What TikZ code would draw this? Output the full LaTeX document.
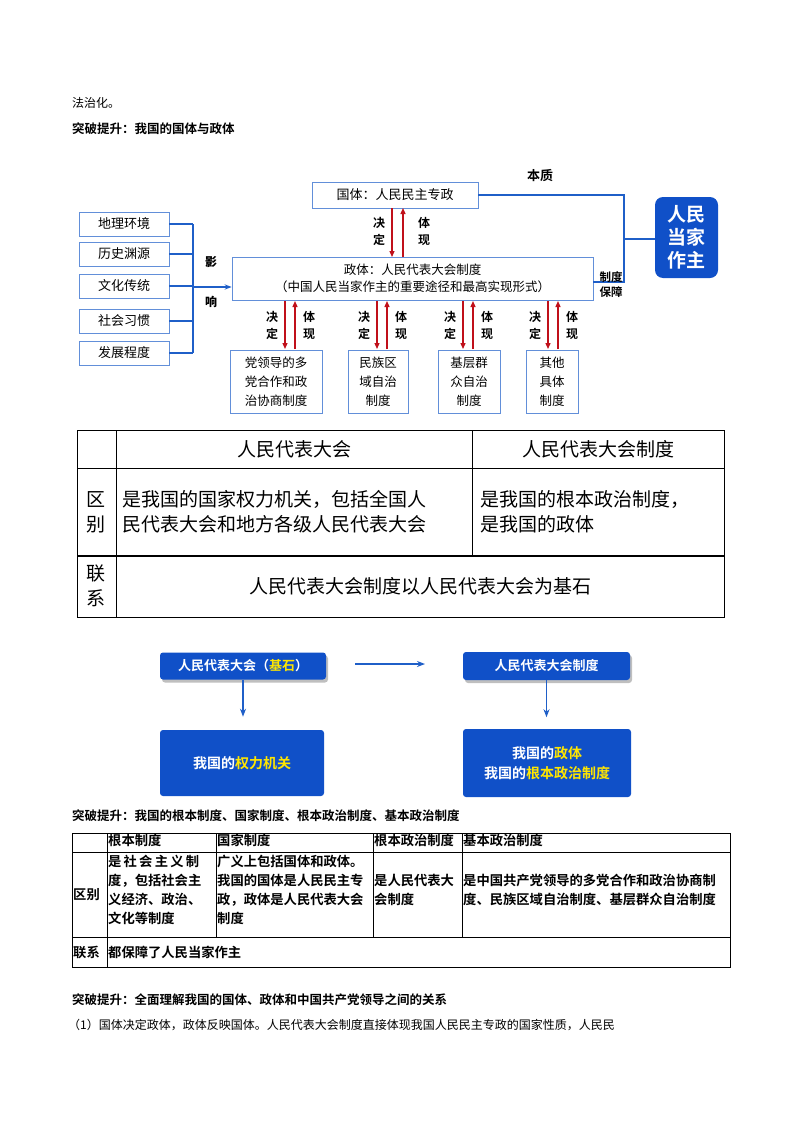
\documentclass[tikz,border=0pt]{standalone}
\usepackage{fontspec}
\setmainfont{Noto Sans CJK SC}
\newfontfamily\cjkb{Noto Sans CJK SC Bold}
\usetikzlibrary{arrows.meta,positioning,shadows}
\definecolor{bl}{HTML}{1F5FC8}
\definecolor{rd}{HTML}{C0101A}
\definecolor{dk}{HTML}{1050C8}
\definecolor{yl}{HTML}{FFE600}
\begin{document}
\begin{tikzpicture}[x=1pt,y=-1pt,
 bx/.style={draw=bl!70,line width=0.8pt,inner sep=0pt,font=\fontsize{13}{16}\selectfont,align=center},
 bline/.style={draw=bl,line width=2pt},
 rarr/.style={draw=rd,line width=1.3pt,-{Triangle[width=5pt,length=6pt]}},
 lab/.style={font=\fontsize{12}{14}\selectfont\bfseries,inner sep=0pt},
 blkbase/.style={rounded corners=3pt,fill=dk,draw=none,text=white,font=\fontsize{13}{17}\selectfont\cjkb,align=center},
 blk/.style={blkbase,drop shadow={shadow xshift=2pt,shadow yshift=-3pt,opacity=0.5}},
 tx/.style={anchor=north west,inner sep=0pt,font=\fontsize{13.3}{19}\selectfont\cjkb,align=left},
 tb/.style={draw=black,line width=0.8pt}]
\useasboundingbox[fill=white] (0,0) rectangle (800,1132);
\node[anchor=west,inner sep=0pt,font=\fontsize{12}{14}\selectfont] (t0) at (72,103) {法治化。};
\node[anchor=west,inner sep=0pt,font=\fontsize{12.5}{14}\selectfont\cjkb] (t1) at (72,129) {突破提升：我国的国体与政体};
% top diagram
\node[bx,minimum width=166pt,minimum height=26pt] (gt) at (395,195) {国体：人民民主专政};
\node[bx,minimum width=361pt,minimum height=43pt,font=\fontsize{12.5}{17}\selectfont] (zt) at (412.5,278.5) {政体：人民代表大会制度\\（中国人民当家作主的重要途径和最高实现形式）};
\foreach \n/\t/\y in {a/地理环境/224,b/历史渊源/254,c/文化传统/286,d/社会习惯/321,e/发展程度/353}
 \node[bx,minimum width=90pt,minimum height=24pt] (\n) at (124,\y) {\t};
\coordinate (br1) at (193,224); \coordinate (br2) at (193,353);
\draw[bline] (br1) -- (br2);
\foreach \n in {a,b,c,d,e} \draw[bline] (\n.east) -- (\n.east -| br1);
\coordinate (ar0) at (193,287);
\draw[bline,-{Stealth[length=7pt]}] (ar0) -- (ar0 -| zt.west);
\node[lab] (y1) at (211,262) {影};
\node[lab] (y2) at (211,302) {响};
\node[blkbase,rounded corners=8pt,minimum width=63pt,minimum height=81pt,font=\fontsize{19}{23}\selectfont\cjkb] (rm) at (686.5,237.5) {人民\\当家\\作主};
\coordinate (c1) at (624,195); \coordinate (c2) at (624,282);
\draw[bline] (gt.east) -- (c1) -- (c2) -- (c2 -| zt.east);
\draw[bline] (624,239) -- (rm.west |- 0,239);
\node[lab,font=\fontsize{13}{15}\selectfont\cjkb] (bz) at (540,176) {本质};
\node[lab,align=center,font=\fontsize{11.5}{15}\selectfont\cjkb] (zd) at (611,285) {制度\\保障};
% vertical arrows
\draw[rarr] (392,208) -- (392,257);
\draw[rarr] (403,257) -- (403,208);
\node[lab,align=center,font=\fontsize{12}{17}\selectfont\cjkb] (j0) at (379,231) {决\\定};
\node[lab,align=center,font=\fontsize{12}{17}\selectfont\cjkb] (h0) at (424,231) {体\\现};
\foreach \n/\x/\w/\t in {p/276/92/党领导的多\\党合作和政\\治协商制度, q/378/60/民族区\\域自治\\制度, r/469/62/基层群\\众自治\\制度, s/552/52/其他\\具体\\制度}{
 \node[bx,minimum width=\w pt,minimum height=63pt,font=\fontsize{12.5}{19}\selectfont] (\n) at (\x,381.5) {\t};
}
\foreach \x in {290,382,468,553}{
 \draw[rarr] (\x-5,301) -- (\x-5,349);
 \draw[rarr] (\x+5,349) -- (\x+5,301);
 \node[lab,align=center,font=\fontsize{12}{17}\selectfont\cjkb] at (\x-18,325) {决\\定};
 \node[lab,align=center,font=\fontsize{12}{17}\selectfont\cjkb] at (\x+19,325) {体\\现};
}
% table 1
\draw[tb,line width=1pt] (77,430) rectangle (724,617);
\draw[tb] (77,468) -- (724,468); \draw[tb,line width=1.2pt] (77,556) -- (724,556);
\draw[tb] (116,430) -- (116,617); \draw[tb] (472,430) -- (472,556);
\begin{scope}[every node/.style={font=\fontsize{19}{25}\selectfont,inner sep=0pt}]
\node (h1) at (294,449) {人民代表大会};
\node (h2) at (598,449) {人民代表大会制度};
\node[align=center] (q1) at (96,512) {区\\别};
\node[align=center] (q2) at (96,586) {联\\系};
\node[anchor=west,align=left] (c11) at (122,512) {是我国的国家权力机关，包括全国人\\民代表大会和地方各级人民代表大会};
\node[anchor=west,align=left] (c12) at (480,512) {是我国的根本政治制度，\\是我国的政体};
\node (c21) at (420,586) {人民代表大会制度以人民代表大会为基石};
\end{scope}
% blue blocks
\node[blk,minimum width=166pt,minimum height=27pt] (k1) at (243,666) {人民代表大会（\textcolor{yl}{基石}）};
\node[blk,minimum width=167pt,minimum height=28pt] (k2) at (546.5,666) {人民代表大会制度};
\node[blkbase,minimum width=164pt,minimum height=66pt,font=\fontsize{14}{20}\selectfont\cjkb] (k3) at (242,763) {我国的\textcolor{yl}{权力机关}};
\node[blkbase,minimum width=168pt,minimum height=68pt,font=\fontsize{14}{20}\selectfont\cjkb] (k4) at (547,763) {我国的\textcolor{yl}{政体}\\我国的\textcolor{yl}{根本政治制度}};
\draw[bline,line width=1.6pt,-{Stealth[length=8pt]}] (355,664) -- (425,664);
\draw[bline,line width=1.6pt,-{Stealth[length=8pt]}] (k1.south) -- ++(0,37);
\draw[bline,line width=1.6pt,-{Stealth[length=8pt]}] (k2.south) -- ++(0,37);
% table 2
\node[anchor=west,inner sep=0pt,font=\fontsize{12.5}{14}\selectfont\cjkb] (t2) at (72,816) {突破提升：我国的根本制度、国家制度、根本政治制度、基本政治制度};
\draw[tb] (72,833) rectangle (730,967);
\draw[tb] (72,852) -- (730,852); \draw[tb] (72,937) -- (730,937);
\draw[tb] (107,833) -- (107,967);
\foreach \x in {216,373,462} \draw[tb] (\x,833) -- (\x,937);
\node[tx] at (108,834) {根本制度};
\node[tx] at (217,834) {国家制度};
\node[tx] at (374,834) {根本政治制度};
\node[tx] at (463,834) {基本政治制度};
\node[tx,anchor=west] at (73,895) {区别};
\node[tx] at (108,855) {是\,社\,会\,主\,义\,制\\度，包括社会主\\义经济、政治、\\文化等制度};
\node[tx] at (217,855) {广义上包括国体和政体。\\我国的国体是人民民主专\\政，政体是人民代表大会\\制度};
\node[tx] at (374,874) {是人民代表大\\会制度};
\node[tx] at (463,874) {是中国共产党领导的多党合作和政治协商制\\度、民族区域自治制度、基层群众自治制度};
\node[tx,anchor=west] at (73,952) {联系};
\node[tx,anchor=west] at (108,952) {都保障了人民当家作主};
\node[anchor=west,inner sep=0pt,font=\fontsize{12.5}{14}\selectfont\cjkb] (t3) at (72,1000) {突破提升：全面理解我国的国体、政体和中国共产党领导之间的关系};
\node[anchor=west,inner sep=0pt,font=\fontsize{12}{14}\selectfont] (t4) at (68,1025) {（1）国体决定政体，政体反映国体。人民代表大会制度直接体现我国人民民主专政的国家性质，人民民};
\end{tikzpicture}
\end{document}
